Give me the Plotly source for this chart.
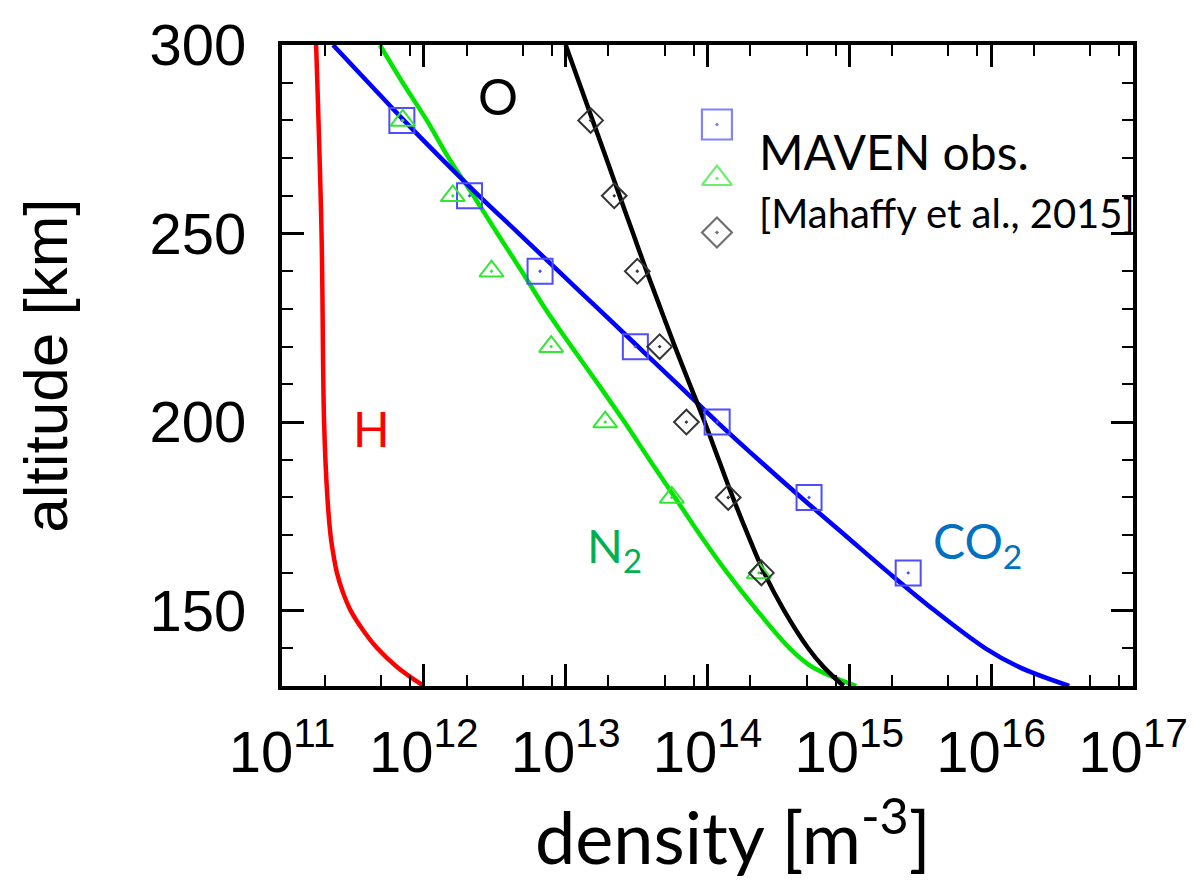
import plotly.graph_objects as go

# ---------------- data ----------------
# model altitudes [km]
ALT = [130, 135, 140, 150, 160, 170, 180, 190, 200, 210, 220, 230, 240, 250, 260, 270, 280, 290, 300]
# model densities [m^-3]
CO2_MODEL = [3.55e16, 1.58e16, 9.1e15, 4.0e15, 1.9e15, 9.33e14, 4.57e14, 2.29e14, 1.17e14, 6.17e13,
             3.24e13, 1.7e13, 8.9e12, 4.68e12, 2.45e12, 1.32e12, 7.24e11, 4.07e11, 2.29e11]
N2_MODEL = [1.12e15, 5.5e14, 3.8e14, 2.24e14, 1.38e14, 8.9e13, 5.9e13, 3.9e13, 2.6e13, 1.7e13,
            1.1e13, 7.2e12, 4.9e12, 3.3e12, 2.24e12, 1.5e12, 1.05e12, 7.1e11, 4.9e11]
O_MODEL = [9.1e14, 6.6e14, 5.13e14, 3.47e14, 2.51e14, 1.93e14, 1.51e14, 1.2e14, 9.55e13, 7.5e13,
           5.89e13, 4.68e13, 3.72e13, 2.99e13, 2.4e13, 1.93e13, 1.55e13, 1.245e13, 1.0e13]
H_ALT = [130, 135, 140, 145, 150, 155, 160, 165, 170, 180, 200, 250, 300]
H_MODEL = [1.0e12, 6.5e11, 4.7e11, 3.7e11, 3.05e11, 2.68e11, 2.44e11, 2.3e11, 2.2e11, 2.09e11, 1.98e11, 1.9e11, 1.74e11]

# MAVEN observations [Mahaffy et al., 2015]
OBS_ALT = [160, 180, 200, 220, 240, 260, 280]
CO2_OBS = [2.6e15, 5.2e14, 1.17e14, 3.1e13, 6.6e12, 2.1e12, 7.0e11]
N2_OBS = [2.3e14, 5.6e13, 1.9e13, 7.9e12, 3.0e12, 1.6e12, 7.1e11]
O_OBS = [2.4e14, 1.4e14, 7.1e13, 4.6e13, 3.2e13, 2.2e13, 1.5e13]

X_EXPONENTS = [11, 12, 13, 14, 15, 16, 17]
X_TICKTEXT = ["10<sup>%d</sup>" % e for e in X_EXPONENTS]
Y_TICKS = [150, 200, 250, 300]
LEGEND_KEYS = ["CO2", "N2", "O"]

# ---------------- styles ----------------
LINE_W = 4.5
C_H, C_CO2, C_N2, C_O = "#ff0000", "#0000ff", "#00e600", "#000000"
M_CO2, M_N2, M_O = "#4d4dff", "#33e633", "#333333"
TICK_FONT = dict(family="Liberation Sans, Arial, sans-serif", size=58, color="black")
ANN_FONT = "Lato, Calibri, sans-serif"

fig = go.Figure()

for alt, dens, col in [(H_ALT, H_MODEL, C_H), (ALT, N2_MODEL, C_N2),
                       (ALT, CO2_MODEL, C_CO2), (ALT, O_MODEL, C_O)]:
    fig.add_trace(go.Scatter(x=dens, y=alt, mode="lines",
                             line=dict(color=col, width=LINE_W, shape="spline", smoothing=1.0),
                             showlegend=False, hoverinfo="skip"))

obs_style = [
    (CO2_OBS, "square-open-dot", 25, M_CO2),
    (N2_OBS, "triangle-up-open-dot", 21, M_N2),
    (O_OBS, "diamond-open-dot", 19, M_O),
]
for dens, sym, size, col in obs_style:
    fig.add_trace(go.Scatter(x=dens, y=OBS_ALT, mode="markers",
                             marker=dict(symbol=sym, size=size, color=col,
                                         line=dict(color=col, width=2)),
                             showlegend=False, hoverinfo="skip", cliponaxis=False))

# legend key (drawn on a hidden helper axis)
key_idx = list(range(len(LEGEND_KEYS)))
fig.add_trace(go.Scatter(x=[0] * len(key_idx), y=key_idx, mode="markers",
                         xaxis="x2", yaxis="y2", cliponaxis=False,
                         marker=dict(symbol=["square-open-dot", "triangle-up-open-dot", "diamond-open-dot"],
                                     size=[30, 26, 23], color=[M_CO2, M_N2, M_O],
                                     line=dict(color=[M_CO2, M_N2, M_O], width=2.2)),
                         showlegend=False, hoverinfo="skip"))

minor_x = [m * 10.0 ** e for e in X_EXPONENTS[:-1] for m in (2, 5, 8)]

fig.update_layout(
    width=1200, height=884,
    margin=dict(l=282, r=61, t=33, b=198),
    plot_bgcolor="white", paper_bgcolor="white",
    showlegend=False,
    xaxis=dict(type="log", range=[11, 17],
               tickmode="array", tickvals=[10.0 ** e for e in X_EXPONENTS], ticktext=X_TICKTEXT,
               ticks="inside", ticklen=22, tickwidth=2.5, tickcolor="black",
               minor=dict(tickmode="array", tickvals=minor_x, ticks="inside", ticklen=11,
                          tickwidth=2, tickcolor="black"),
               showline=True, linecolor="black", linewidth=4, mirror="ticks",
               showgrid=False, zeroline=False, tickfont=TICK_FONT, ticklabelstandoff=12),
    yaxis=dict(range=[130, 300], tickmode="array", tickvals=Y_TICKS,
               ticks="inside", ticklen=22, tickwidth=2.5, tickcolor="black",
               minor=dict(dtick=10, tick0=0, ticks="inside", ticklen=11, tickwidth=2, tickcolor="black"),
               showline=True, linecolor="black", linewidth=4, mirror="ticks",
               showgrid=False, zeroline=False, tickfont=TICK_FONT, ticklabelstandoff=20),
    xaxis2=dict(domain=[0.5011, 0.5211], range=[-1, 1], visible=False, anchor="y2"),
    yaxis2=dict(domain=[0.6654, 0.9181], range=[2.5, -0.5], visible=False, anchor="x2"),
)

def px_x(px):
    return (px - 282) / 857.0

def px_y(py):
    return (686 - py) / 653.0

ann = [
    dict(text="altitude [km]", x=px_x(44), y=px_y(360), textangle=-90,
         font=dict(family="Liberation Sans, Arial, sans-serif", size=62, color="black")),
    dict(text="density [m<sup>-3</sup>]", x=px_x(736), y=px_y(834),
         font=dict(family=ANN_FONT, size=72, color="black")),
    dict(text="O", x=px_x(500), y=px_y(85), font=dict(family=ANN_FONT, size=50, color="black")),
    dict(text="H", x=px_x(372), y=px_y(424), font=dict(family=ANN_FONT, size=48, color="#ff0000")),
    dict(text="N<sub>2</sub>", x=px_x(587), y=px_y(546), xanchor="left",
         font=dict(family=ANN_FONT, size=47, color="#00b050")),
    dict(text="CO<sub>2</sub>", x=px_x(936), y=px_y(541), xanchor="left",
         font=dict(family=ANN_FONT, size=48, color="#0070c0")),
    dict(text="MAVEN obs.", x=px_x(760), y=px_y(141), xanchor="left",
         font=dict(family=ANN_FONT, size=48, color="black")),
    dict(text="[Mahaffy et al., 2015]", x=px_x(760), y=px_y(204), xanchor="left",
         font=dict(family=ANN_FONT, size=40, color="black")),
]
for a in ann:
    a.setdefault("xanchor", "center")
    a.update(xref="paper", yref="paper", yanchor="middle", showarrow=False)
    fig.add_annotation(**a)

fig.write_html("out.html")
